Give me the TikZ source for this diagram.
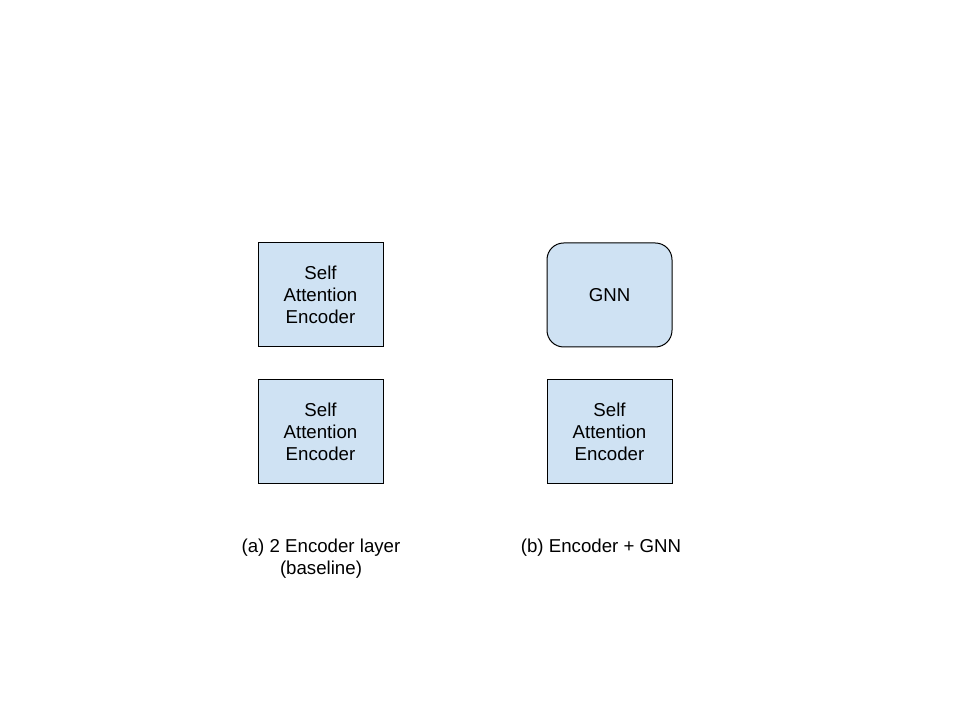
\documentclass[tikz,border=0pt]{standalone}
\usepackage{fontspec}
\setmainfont{Liberation Sans}
\usetikzlibrary{positioning}

\definecolor{boxblue}{RGB}{207,226,243}

\tikzset{
    layerbox/.style={draw=black, line width=0.75pt, fill=boxblue, inner sep=0pt,
        minimum width=93.75pt, minimum height=78pt, align=center,
        font=\fontsize{14}{16.5}\selectfont},
    gnnbox/.style={layerbox, rounded corners=12.5pt},
    caption/.style={align=center, inner sep=0pt, font=\fontsize{14}{16.5}\selectfont}
}

\begin{document}
\begin{tikzpicture}[x=0.75pt, y=0.75pt]
    % Frame of the page
    \useasboundingbox (0,0) rectangle (960,720);

    % (a) two encoder layers
    \node[layerbox] (encAtop) at (320.5,425) {Self\\Attention\\Encoder};
    \node[layerbox] (encAbot) at (320.5,288.5) {Self\\Attention\\Encoder};

    % (b) encoder with GNN on top
    \node[gnnbox] (gnn) at (609.5,425) {GNN};
    \node[layerbox] (encB) at (609.5,288.5) {Self\\Attention\\Encoder};

    % Captions
    \node[caption] (capA) at (321,161) {(a) 2 Encoder layer\\(baseline)};
    \node[caption] (capB) at (601,172) {(b) Encoder + GNN};
\end{tikzpicture}
\end{document}
